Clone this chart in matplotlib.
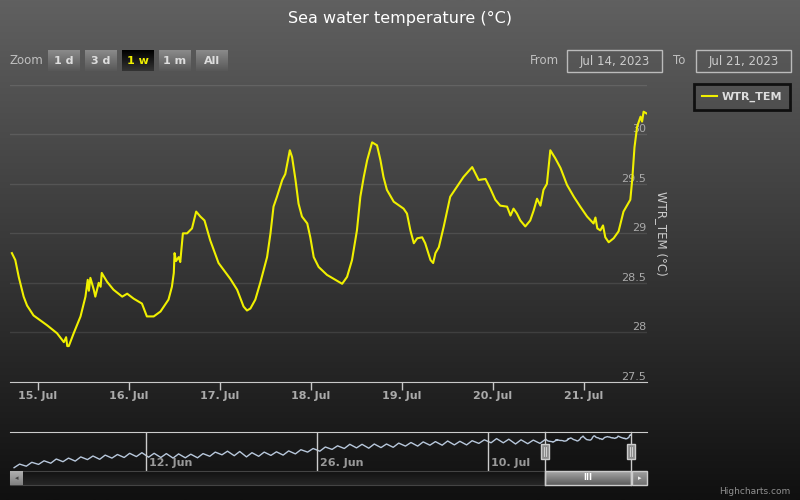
"""Sea water temperature chart (Highcharts stock look) with matplotlib"""

import numpy as np
import pandas as pd
import matplotlib
matplotlib.use("Agg")
import matplotlib.pyplot as plt
import matplotlib.dates as mdates
from matplotlib.colors import LinearSegmentedColormap
from matplotlib.patches import Rectangle
from matplotlib.transforms import offset_copy

# ---------------- data ----------------
# last week, hours counted from 2023-07-14 00:00
week_hours = [17.1, 18.0, 18.9, 20.2, 21.1, 22.8, 26.4, 29.0, 30.8, 31.4, 31.7, 32.1, 33.4, 35.2,
              36.5, 37.1, 37.4, 37.8, 38.7, 39.1, 40.0, 40.5, 40.8, 41.1, 42.2, 43.9, 46.2,
              47.5, 49.2, 51.4, 52.7, 54.5, 56.3, 58.4, 59.3, 59.8, 60.0, 60.4, 61.1, 61.5,
              62.2, 63.3, 64.6, 65.7, 66.8, 67.9, 69.4, 71.6, 74.7, 76.5, 78.2, 79.1, 80.0,
              81.3, 82.6, 84.4, 85.3, 86.1, 87.0, 88.4, 89.2, 90.4, 91.0, 91.9, 92.7, 93.6,
              95.0, 95.8, 96.7, 98.0, 100.2, 102.4, 104.2, 105.5, 106.8, 108.1, 109.0,
              109.9, 110.8, 112.1, 113.4, 114.3, 115.1, 116.0, 117.8, 120.4, 121.3,
              122.2, 123.1, 124.0, 125.3, 126.1, 127.5, 128.2, 128.8, 129.7, 131.0, 132.7,
              134.1, 136.2, 138.5, 140.2, 142.0, 143.3, 144.6, 145.9, 147.7, 148.6,
              149.4, 150.3, 151.2, 152.5, 153.8, 154.7, 155.6, 156.5, 157.3, 158.2,
              159.1, 160.4, 161.8, 163.5, 165.3, 167.0, 168.8, 170.5, 171.0, 171.5,
              172.3, 173.0, 173.6, 174.5, 175.8, 177.1, 178.4, 180.2, 180.7, 181.3,
              182.0, 182.9, 183.3, 183.7, 184.6]
week_temp = [28.80, 28.73, 28.56, 28.36, 28.27, 28.17, 28.07, 27.99, 27.90, 27.95, 27.86, 27.86,
             27.99, 28.16, 28.36, 28.53, 28.42, 28.55, 28.43, 28.36, 28.50, 28.46, 28.60, 28.58,
             28.51, 28.43, 28.36, 28.39, 28.34, 28.29, 28.16, 28.16, 28.21, 28.33, 28.46, 28.60,
             28.80, 28.72, 28.76, 28.71, 29.00, 29.00, 29.05, 29.22, 29.17, 29.13, 28.93, 28.70,
             28.54, 28.43, 28.26, 28.22, 28.24, 28.33, 28.50, 28.76, 29.00, 29.27, 29.37, 29.54,
             29.60, 29.84, 29.77, 29.54, 29.30, 29.17, 29.10, 28.96, 28.76, 28.66, 28.58, 28.53,
             28.49, 28.56, 28.73, 29.03, 29.37, 29.57, 29.74, 29.92, 29.89, 29.74, 29.57,
             29.44, 29.32, 29.25, 29.20, 29.03, 28.90, 28.95, 28.96, 28.90, 28.73, 28.70,
             28.80, 28.86, 29.07, 29.37, 29.45, 29.57, 29.67, 29.54, 29.55, 29.45, 29.34,
             29.28, 29.27, 29.18, 29.25, 29.20, 29.13, 29.07, 29.13, 29.23, 29.35, 29.28,
             29.44, 29.50, 29.84, 29.76, 29.66, 29.49, 29.37, 29.27, 29.17, 29.10, 29.16,
             29.05, 29.03, 29.08, 28.96, 28.91, 28.95, 29.02, 29.22, 29.34, 29.54, 29.87,
             30.08, 30.18, 30.13, 30.23, 30.21]

# navigator history, one low and one high per day from 2023-06-01
hist_low = [19.3, 19.8, 20.4, 20.8, 21.3, 21.5, 22.0, 22.1, 22.5, 22.7, 23.0, 22.8, 22.7, 22.5,
            22.6, 22.6, 23.1, 23.6, 23.3, 22.9, 23.1, 23.4, 23.5, 23.9, 24.5, 24.8, 25.4, 25.7,
            25.9, 25.8, 26.0, 26.1, 26.5, 26.5, 26.8, 26.8, 26.9, 26.9, 27.4, 27.6, 27.6, 27.2,
            27.3, 27.4]
hist_high = [20.5, 21.1, 21.6, 22.2, 22.5, 22.9, 23.2, 23.5, 23.7, 24.1, 24.3, 24.1, 24.0, 23.9,
             23.8, 24.0, 24.5, 24.8, 24.7, 24.3, 24.5, 24.6, 24.9, 25.3, 25.7, 26.2, 26.6, 27.1,
             27.1, 27.2, 27.2, 27.5, 27.7, 27.9, 28.0, 28.2, 28.1, 28.3, 28.6, 29.0, 28.8, 28.6,
             28.5, 28.8]

y_ticks = [27.5, 28, 28.5, 29, 29.5, 30, 30.5]
nav_tick_dates = ["2023-06-12", "2023-06-26", "2023-07-10"]
zoom_buttons = ["1 d", "3 d", "1 w", "1 m", "All"]
selected_button = "1 w"
title = "Sea water temperature (°C)"
series_name = "WTR_TEM"

# ---------------- time axes ----------------
t_week = pd.Timestamp("2023-07-14") + pd.to_timedelta(week_hours, unit="h")
days = np.arange(len(hist_low))
t_hist = pd.Timestamp("2023-06-01") + pd.to_timedelta(
    np.ravel(np.column_stack([days + 0.25, days + 0.7])), unit="D")
v_hist = np.ravel(np.column_stack([hist_low, hist_high]))
t_nav = np.concatenate([t_hist.values, t_week.values])
v_nav = np.concatenate([v_hist, week_temp])

t_end = t_week[-1]
t_start = t_end - pd.Timedelta(days=7)

# ---------------- figure ----------------
W, H = 800, 500
fig = plt.figure(figsize=(8, 5), dpi=100)

bg = fig.add_axes([0, 0, 1, 1], zorder=-10)
bg_cmap = LinearSegmentedColormap.from_list("bg", ["#606060", "#101010"])
bg.imshow(np.linspace(0, 1, 256).reshape(-1, 1), cmap=bg_cmap, aspect="auto",
          extent=(0, W, 0, H))
bg.axis("off")

# main plot
ax = fig.add_axes([10 / W, 1 - 381.7 / H, 637 / W, 296.7 / H])
ax.set_facecolor("none")
ax.plot(t_week, week_temp, color="#f0f000", lw=1.5, label=series_name, zorder=3)
ax.set_xlim(t_start, t_end)
ax.set_ylim(y_ticks[0], y_ticks[-1])
ax.set_yticks(y_ticks)
ax.tick_params(axis="y", left=False, labelleft=False, length=0)
ax.yaxis.grid(True, color="white", alpha=0.1, lw=1)
for sp in ["left", "right", "top"]:
    ax.spines[sp].set_visible(False)
ax.spines["bottom"].set_color("#c8c8c8")
ax.xaxis.set_major_locator(mdates.DayLocator())
ax.xaxis.set_major_formatter(mdates.DateFormatter("%d. %b"))
ax.tick_params(axis="x", colors="#c8c8c8", length=6, width=1, pad=1,
               labelsize=8, labelcolor="#aaaaaa")
for lab in ax.get_xticklabels():
    lab.set_fontweight("bold")
for v in y_ticks[:-1]:
    ax.text(0.999, v, f"{v:g}", transform=ax.get_yaxis_transform(), ha="right",
            va="bottom", color="#aaaaaa", fontsize=8, zorder=2)
fig.text(661 / W, 1 - 233 / H, f"{series_name} (°C)", rotation=270, ha="center",
         va="center", color="#cccccc", fontsize=8.5)

leg = ax.legend(loc="upper left", bbox_to_anchor=(694 / W, 1 - 84 / H),
                bbox_transform=fig.transFigure, fancybox=False, facecolor="none",
                edgecolor="black", handlelength=1.4, handletextpad=0.4, borderpad=0.7,
                prop={"size": 8, "weight": "bold"}, borderaxespad=0)
leg.get_frame().set_linewidth(2)
for txt in leg.get_texts():
    txt.set_color("#dddddd")

fig.text(0.5, 1 - 18 / H, title, ha="center", va="center", color="white", fontsize=11.5)

# navigator
nav = fig.add_axes([10 / W, 1 - 471 / H, 637 / W, 39 / H])
nav.set_facecolor("none")
nav.plot(t_nav, v_nav, color="#b8c8dc", lw=1)
nav.set_xlim(pd.Timestamp("2023-05-31 22:00"), pd.Timestamp("2023-07-23 00:00"))
nav.set_ylim(18.2, 31.2)
nav.set_xticks([])
nav.set_yticks([])
for sp in ["left", "right", "bottom"]:
    nav.spines[sp].set_visible(False)
nav.spines["top"].set_color("#cccccc")
lab_tr = offset_copy(nav.get_xaxis_transform(), fig=fig, x=3, y=0, units="dots")
for d in nav_tick_dates:
    nav.axvline(pd.Timestamp(d), color="#cccccc", lw=1)
    nav.text(pd.Timestamp(d), 0.2, pd.Timestamp(d).strftime("%d. %b"), transform=lab_tr,
             ha="left", va="center", color="#999999", fontsize=8, fontweight="bold")
nav.axvspan(t_start, t_end, color="#101010", alpha=0.35, lw=0)

# overlay in pixel coordinates (top origin)
ov = fig.add_axes([0, 0, 1, 1], zorder=5)
ov.set_facecolor("none")


def grad_box(x0, y0, x1, y1, c_top, c_bot, z=1):
    cmap = LinearSegmentedColormap.from_list("g", [c_top, c_bot])
    ov.imshow(np.linspace(0, 1, 32).reshape(-1, 1), cmap=cmap, aspect="auto",
              extent=(x0, x1, y1, y0), zorder=z)


# range selector
ov.text(10, 61, "Zoom", ha="left", va="center", color="#c0c0c0", fontsize=8.5)
for i, b in enumerate(zoom_buttons):
    x0 = 48 + i * 37
    if b == selected_button:
        grad_box(x0, 50, x0 + 32, 71, "#000000", "#333333")
        col = "#f0f000"
    else:
        grad_box(x0, 50, x0 + 32, 71, "#8a8a8a", "#585858")
        col = "#dddddd"
    ov.text(x0 + 16, 61, b, ha="center", va="center", color=col, fontsize=8,
            fontweight="bold", zorder=2)

from_txt = t_start.normalize().strftime("%b %d, %Y")
to_txt = t_end.normalize().strftime("%b %d, %Y")
ov.text(530, 61, "From", ha="left", va="center", color="#c0c0c0", fontsize=8.5)
ov.add_patch(Rectangle((567, 50), 95, 22, fill=False, edgecolor="#bbbbbb", lw=1))
ov.text(614.5, 61, from_txt, ha="center", va="center", color="#cccccc", fontsize=8.5)
ov.text(673, 61, "To", ha="left", va="center", color="#c0c0c0", fontsize=8.5)
ov.add_patch(Rectangle((696, 50), 95, 22, fill=False, edgecolor="#bbbbbb", lw=1))
ov.text(743.5, 61, to_txt, ha="center", va="center", color="#cccccc", fontsize=8.5)

# selection handles and scrollbar
xs = nav.transData.transform([[mdates.date2num(t_start), 0], [mdates.date2num(t_end), 0]])[:, 0]
hx0, hx1 = xs
grad_box(10, 471, 647, 485, "#121212", "#262626")
ov.add_patch(Rectangle((10, 471), 637, 14, fill=False, edgecolor="#444444", lw=0.8))
grad_box(10, 471, 23, 485, "#b0b0b0", "#808080", z=2)
ov.text(16.5, 478, "◂", ha="center", va="center", color="#444444", fontsize=5, zorder=3)
grad_box(hx0, 471, hx1, 485, "#a8a8a8", "#5c5c5c", z=2)
ov.add_patch(Rectangle((hx0, 471), hx1 - hx0, 14, fill=False, edgecolor="#cccccc", lw=1, zorder=3))
ov.text((hx0 + hx1) / 2, 478, "III", ha="center", va="center", color="white", fontsize=6,
        fontweight="bold", zorder=3)
grad_box(632, 471, 647, 485, "#a0a0a0", "#707070", z=2)
ov.add_patch(Rectangle((632, 471), 15, 14, fill=False, edgecolor="#cccccc", lw=1, zorder=3))
ov.text(639.5, 478, "▸", ha="center", va="center", color="#eeeeee", fontsize=5, zorder=4)
for hx in (hx0, hx1):
    ov.plot([hx, hx], [432, 485], color="#cccccc", lw=1, zorder=3)
    ov.add_patch(Rectangle((hx - 4, 444), 8, 15, facecolor="#8c8c8c", edgecolor="#cccccc",
                           lw=1, zorder=4))
    ov.plot([hx - 1, hx - 1], [447, 456], color="#dddddd", lw=0.6, zorder=5)
    ov.plot([hx + 1, hx + 1], [447, 456], color="#dddddd", lw=0.6, zorder=5)

ov.text(790, 492, "Highcharts.com", ha="right", va="center", color="#909090", fontsize=6.5)

ov.set_xlim(0, W)
ov.set_ylim(H, 0)
ov.axis("off")

fig.savefig("out.png", dpi=100)
